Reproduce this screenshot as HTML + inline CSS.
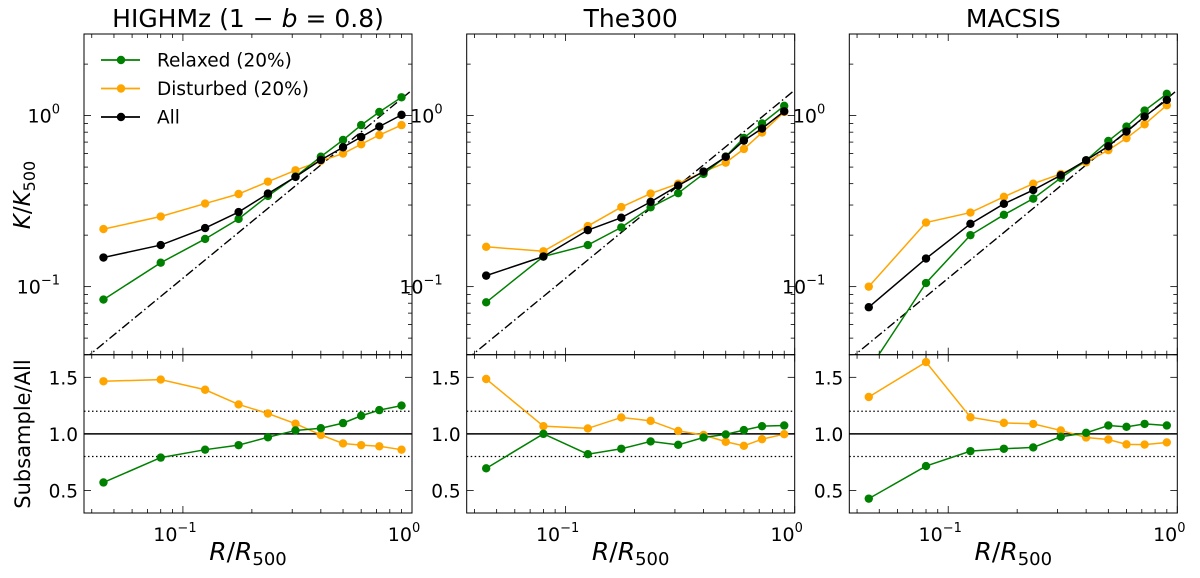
<!DOCTYPE html>
<html><head><meta charset="utf-8">
<style>
body{margin:0;background:#fff;}
svg{display:block;font-family:"DejaVu Sans","Liberation Sans",sans-serif;}
</style></head>
<body>
<svg id="chart" width="1200" height="578" viewBox="0 0 1200 578" xmlns="http://www.w3.org/2000/svg"></svg>
<script>
const radii = [0.045,0.08,0.125,0.175,0.235,0.31,0.4,0.5,0.6,0.72,0.9];
const panelTitles = ["HIGHMz","The300","MACSIS"];
const kRelaxed = [
 [0.084,0.138,0.19,0.249,0.339,0.44,0.575,0.72,0.88,1.05,1.28],
 [0.081,0.15,0.175,0.222,0.291,0.352,0.456,0.576,0.74,0.90,1.14],
 [0.0326,0.105,0.2,0.263,0.327,0.432,0.548,0.711,0.863,1.07,1.34]];
const kDisturbed = [
 [0.217,0.257,0.306,0.348,0.411,0.479,0.543,0.6,0.68,0.77,0.88],
 [0.171,0.161,0.226,0.292,0.35,0.4,0.469,0.531,0.638,0.796,1.05],
 [0.1,0.237,0.271,0.335,0.40,0.456,0.533,0.628,0.738,0.89,1.15]];
const kAll = [
 [0.148,0.175,0.22,0.273,0.35,0.438,0.55,0.653,0.75,0.863,1.01],
 [0.116,0.15,0.214,0.253,0.313,0.39,0.471,0.574,0.714,0.84,1.06],
 [0.0758,0.146,0.233,0.305,0.367,0.448,0.548,0.662,0.807,0.987,1.235]];
const ratioRelaxed = [
 [0.57,0.79,0.86,0.9,0.97,1.03,1.05,1.095,1.16,1.21,1.25],
 [0.695,1.0,0.82,0.868,0.933,0.903,0.968,0.995,1.033,1.068,1.074],
 [0.427,0.715,0.847,0.868,0.88,0.974,1.009,1.074,1.062,1.088,1.074]];
const ratioDisturbed = [
 [1.465,1.48,1.39,1.26,1.18,1.09,0.99,0.915,0.9,0.89,0.86],
 [1.485,1.068,1.048,1.145,1.115,1.026,0.99,0.93,0.894,0.953,0.997],
 [1.326,1.635,1.147,1.097,1.088,1.03,0.968,0.95,0.907,0.905,0.924]];
const selfSimNorm = 1.41, selfSimSlope = 1.1;
const legendLabels = ["Relaxed (20%)","Disturbed (20%)","All"];

const NS="http://www.w3.org/2000/svg";
const svg=document.getElementById('chart');
function mk(tag,attrs,parent){const e=document.createElementNS(NS,tag);for(const k in attrs)e.setAttribute(k,attrs[k]);(parent||svg).appendChild(e);return e;}
const lefts=[84,466.7,849.3], W=328, topY=34, midY=354.7, botY=513;
const XMIN=Math.log10(0.037), XMAX=0, YMIN=Math.log10(0.04), YMAX=Math.log10(3), RMIN=0.3, RMAX=1.7;
const GREEN="#008000", ORANGE="#FFA500";

panelTitles.forEach((t,p)=>{
  const L=lefts[p];
  const g=mk('g',{});
  
  
  const xs=v=>L+(Math.log10(v)-XMIN)/(XMAX-XMIN)*W;
  const ys=v=>topY+(YMAX-Math.log10(v))/(YMAX-YMIN)*(midY-topY);
  const yr=v=>midY+(RMAX-v)/(RMAX-RMIN)*(botY-midY);
  const cp=mk('clipPath',{id:'ct'+p},g); mk('rect',{x:L,y:topY,width:W,height:midY-topY},cp);
  const cb=mk('clipPath',{id:'cb'+p},g); mk('rect',{x:L,y:midY,width:W,height:botY-midY},cb);
  const tk=mk('g',{stroke:'#000','stroke-width':0.8},g);
  
  
  const xt=[];
  for(let d=-2;d<=0;d++)for(let m=1;m<=9;m++){const v=m*Math.pow(10,d);if(v>=0.037&&v<=1.0001)xt.push([v,m===1]);}
  xt.forEach(([v,maj])=>{const x=xs(v),len=maj?7:4;
    [topY,midY].forEach(y=>mk('line',{x1:x,x2:x,y1:y,y2:y+len},tk));
    [midY,botY].forEach(y=>mk('line',{x1:x,x2:x,y1:y,y2:y-len},tk));});
  for(let d=-2;d<=0;d++)for(let m=1;m<=9;m++){const v=m*Math.pow(10,d);if(v>=0.04&&v<=3){const y=ys(v),len=m===1?7:4;
    mk('line',{x1:L,x2:L+len,y1:y,y2:y},tk);mk('line',{x1:L+W,x2:L+W-len,y1:y,y2:y},tk);}}
  [0.5,1.0,1.5].forEach(v=>{const y=yr(v);mk('line',{x1:L,x2:L+7,y1:y,y2:y},tk);mk('line',{x1:L+W,x2:L+W-7,y1:y,y2:y},tk);});
  [[0.1,'−1'],[1,'0']].forEach(([v,e])=>{const t2=mk('text',{x:L-24,y:ys(v)+7,'font-size':19,'text-anchor':'end'},g);t2.textContent='10';const s=mk('tspan',{dy:-9,'font-size':13},t2);s.textContent=e;});
  [[0.5,'0.5'],[1.0,'1.0'],[1.5,'1.5']].forEach(([v,s])=>{const t2=mk('text',{x:L-6,y:yr(v)+7,'font-size':18.5,'text-anchor':'end'},g);t2.textContent=s;});
  [[0.1,'−1'],[1,'0']].forEach(([v,e])=>{const t2=mk('text',{x:xs(v)-8,y:botY+28,'font-size':19,'text-anchor':'middle'},g);t2.textContent='10';const s=mk('tspan',{dy:-9,'font-size':13},t2);s.textContent=e;});
  mk('line',{x1:L,x2:L+W,y1:yr(1),y2:yr(1),stroke:'#000','stroke-width':1.5},g);
  [1.2,0.8].forEach(v=>mk('line',{x1:L,x2:L+W,y1:yr(v),y2:yr(v),stroke:'#000','stroke-width':1.3,'stroke-dasharray':'1.5,2.5'},g));
  const x0=0.037,x1=1;
  const ss=mk('line',{x1:xs(x0),y1:ys(selfSimNorm*Math.pow(x0,selfSimSlope)),x2:xs(x1),y2:ys(selfSimNorm*Math.pow(x1,selfSimSlope)),stroke:'#000','stroke-width':1.4,'stroke-dasharray':'9,3,1.5,3','clip-path':'url(#ct'+p+')'},g);
  
  
  function series(vals,sx,sy,col,clip,name){
    const sg=mk('g',{'clip-path':'url(#'+clip+')'},g);
    
    
    mk('polyline',{points:vals.map((v,i)=>sx(radii[i])+','+sy(v)).join(' '),fill:'none',stroke:col,'stroke-width':1.5},sg);
    vals.forEach((v,i)=>{const c=mk('circle',{cx:sx(radii[i]),cy:sy(v),r:4.2,fill:col},sg);
      
      });
  }
  series(kDisturbed[p],xs,ys,ORANGE,'ct'+p,'disturbed-profile');
  series(kRelaxed[p],xs,ys,GREEN,'ct'+p,'relaxed-profile');
  series(kAll[p],xs,ys,'#000','ct'+p,'all-profile');
  series(ratioDisturbed[p],xs,yr,ORANGE,'cb'+p,'disturbed-ratio');
  series(ratioRelaxed[p],xs,yr,GREEN,'cb'+p,'relaxed-ratio');
  mk('rect',{x:L,y:topY,width:W,height:midY-topY,fill:'none',stroke:'#000','stroke-width':1},g);
  mk('rect',{x:L,y:midY,width:W,height:botY-midY,fill:'none',stroke:'#000','stroke-width':1},g);
  const xl=mk('text',{x:L+W/2,y:560,'font-size':25,'text-anchor':'middle'},g);
  
  
  xl.innerHTML='<tspan font-style="italic">R</tspan>/<tspan font-style="italic">R</tspan><tspan font-size="18" dy="5">500</tspan>';
  const tt=mk('text',{x:L+W/2,y:27,'font-size':25,'text-anchor':'middle'},g);
  
  
  if(p===0) tt.innerHTML='HIGHMz (1 − <tspan font-style="italic">b</tspan> = 0.8)'; else tt.textContent=t;
});
const yl=mk('text',{transform:'translate(30,195) rotate(-90)','font-size':23,'text-anchor':'middle'});


yl.innerHTML='<tspan font-style="italic">K</tspan>/<tspan font-style="italic">K</tspan><tspan font-size="16" dy="5">500</tspan>';
const yl2=mk('text',{transform:'translate(30,434) rotate(-90)','font-size':21,'text-anchor':'middle'});


yl2.textContent='Subsample/All';
const lg=mk('g',{});


[GREEN,ORANGE,'#000'].forEach((c,i)=>{
  const y=60+i*28.5;
  const e=mk('g',{},lg);
  
  
  mk('line',{x1:101,x2:140,y1:y,y2:y,stroke:c,'stroke-width':1.8},e);
  mk('circle',{cx:121,cy:y,r:4.2,fill:c},e);
  const t=mk('text',{x:157,y:y+6.5,'font-size':18.5},e);t.textContent=legendLabels[i];
});
</script>
</body></html>
